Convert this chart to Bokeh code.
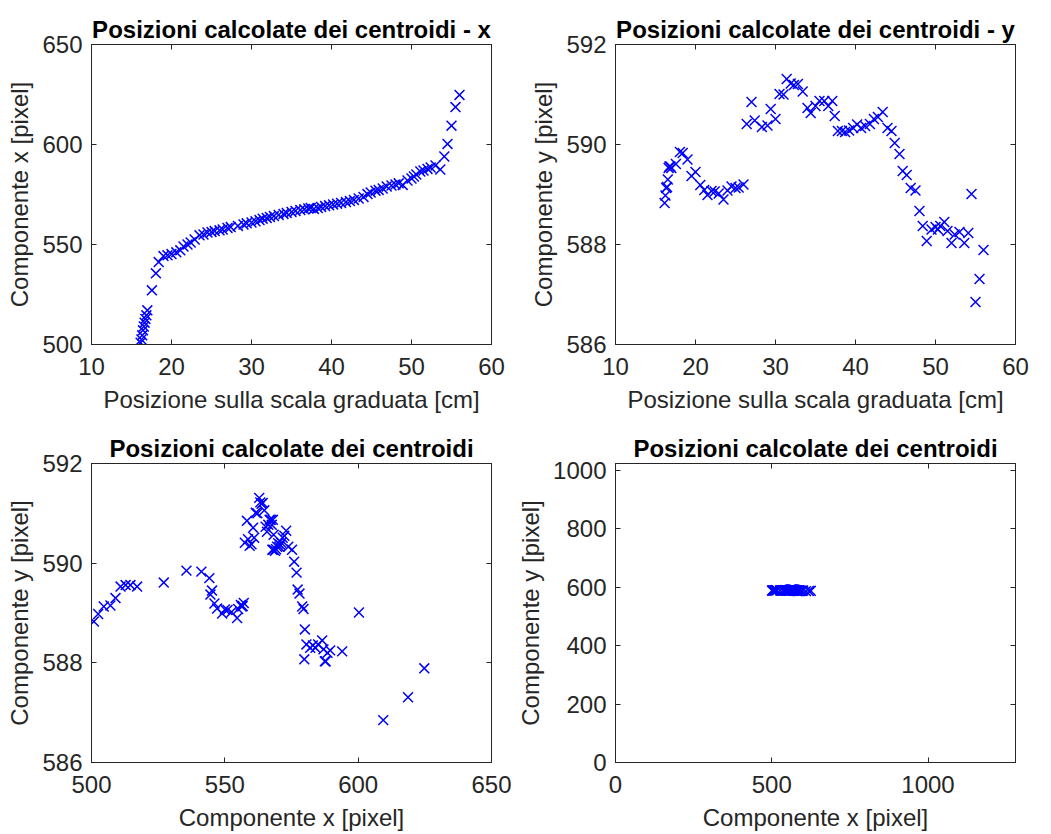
from bokeh.plotting import figure
from bokeh.layouts import gridplot
from bokeh.models import Range1d, FixedTicker, LinearAxis, ColumnDataSource
from bokeh.embed import file_html
from bokeh.resources import INLINE

# ---- data ----
pos_cm = [16.14, 16.24, 16.34, 16.44, 16.54, 16.64, 16.74, 16.86, 16.98,
          17.55, 18.05, 18.4, 19.0, 19.5, 20.0, 20.6, 21.1, 21.5, 22.0, 22.4, 22.9,
          23.5, 24.0, 24.5, 25.0, 25.4, 26.0,
          26.4, 27.0, 27.4, 28.3, 29.0, 29.4, 30.0, 30.5, 31.0, 31.4,
          31.9, 32.3, 32.8, 33.4, 34.0, 34.4, 35.0, 35.5, 36.1, 36.6,
          37.1, 37.4, 37.8, 38.3, 38.7, 39.2, 39.7, 40.2, 40.7, 41.2,
          41.8, 42.3, 42.8, 43.4, 44.0, 44.5, 44.9, 45.5, 45.9, 46.4,
          46.9, 47.5, 48.0, 48.4, 48.9, 49.5, 50.0, 50.3, 50.6, 51.1,
          51.5, 52.0, 52.4, 53.0, 53.6, 54.1, 54.5, 55.0, 55.5, 56.0]

comp_x = [500.9, 502.5, 504.6, 507.1, 509.0, 510.9, 512.8, 514.6, 517.1,
          527.1, 535.6, 541.2, 544.2, 544.6, 545.2, 546.1, 547.1, 549.0, 550.0, 551.0, 552.5,
          554.6, 555.0, 556.0, 556.3, 556.7, 557.1,
          557.5, 558.3, 558.7, 559.3, 560.0, 560.6, 561.0, 561.6, 562.2, 562.9,
          563.3, 563.8, 564.2, 564.8, 565.3, 565.8, 566.3, 566.8, 567.2, 567.6,
          568.0, 568.3, 567.8, 568.2, 568.8, 569.2, 569.6, 570.0, 570.4, 570.8,
          571.2, 571.7, 572.3, 573.0, 573.8, 575.2, 576.0, 576.9, 577.3, 578.0,
          579.0, 579.5, 580.0, 580.6, 579.8, 582.0, 583.0, 584.0, 585.0, 586.5,
          587.0, 587.8, 588.5, 589.5, 587.5, 594.0, 600.3, 609.4, 618.7, 624.8]

comp_y = [588.83, 588.98, 589.13, 589.15, 589.30, 589.53, 589.56, 589.56, 589.53,
          589.61, 589.85, 589.83, 589.70, 589.37, 589.45, 589.19, 589.09, 588.99, 589.07, 589.06, 589.02,
          588.90, 589.08, 589.16, 589.13, 589.14, 589.20,
          590.41, 590.85, 590.48, 590.35, 590.38, 590.71, 590.51, 591.01, 591.00, 591.31,
          591.22, 591.19, 591.21, 591.06, 590.73, 590.63, 590.77, 590.87, 590.87, 590.77,
          590.87, 590.57, 590.27, 590.27, 590.25, 590.28, 590.33, 590.40, 590.33, 590.37,
          590.41, 590.51, 590.55, 590.65, 590.33, 590.27, 590.03, 589.81, 589.47, 589.39,
          589.13, 589.08, 588.67, 588.37, 588.07, 588.30, 588.35, 588.30, 588.37, 588.45,
          588.27, 588.03, 588.20, 588.25, 588.03, 588.23, 589.01, 586.85, 587.31, 587.89]

titles = ["Posizioni calcolate dei centroidi - x",
          "Posizioni calcolate dei centroidi - y",
          "Posizioni calcolate dei centroidi",
          "Posizioni calcolate dei centroidi"]

ticks_cm = [10, 20, 30, 40, 50, 60]
ticks_px_x = [500, 550, 600, 650]
ticks_px_y = [586, 588, 590, 592]
ticks_comp_x = [500, 550, 600, 650]
ticks_full_x = [0, 500, 1000]
ticks_full_y = [0, 200, 400, 600, 800, 1000]

src = ColumnDataSource(dict(cm=pos_cm, px=comp_x, py=comp_y))

FONT = "Liberation Sans"
TXT = "#262626"
BLUE = "#0000FF"
FS = "24px"


def style_axis(ax, ticks, show_labels=True):
    ax.ticker = FixedTicker(ticks=ticks)
    ax.major_tick_in = 5
    ax.major_tick_out = 0
    ax.minor_tick_line_color = None
    ax.major_tick_line_color = TXT
    ax.axis_line_color = TXT
    ax.major_label_text_font = FONT
    ax.axis_label_text_font = FONT
    ax.axis_label_text_font_size = FS
    ax.axis_label_text_font_style = "normal"
    ax.axis_label_text_color = TXT
    if show_labels:
        ax.major_label_text_color = TXT
        ax.major_label_text_font_size = FS
    else:
        ax.major_label_text_color = None
        ax.major_label_text_font_size = "0px"
        ax.major_label_standoff = 0


def make_fig(title, xcol, ycol, xr, yr, xt, yt, xlabel, ylabel, w, h, bl, br, bt, bb):
    p = figure(width=w, height=h, output_backend="svg", toolbar_location=None,
               x_range=Range1d(*xr), y_range=Range1d(*yr),
               min_border_left=bl, min_border_right=br,
               min_border_top=bt, min_border_bottom=bb)
    p.title.text = title
    p.title.text_font = FONT
    p.title.text_font_size = FS
    p.title.text_font_style = "bold"
    p.title.text_color = "#000000"
    p.title.align = "center"
    p.title.standoff = 4
    p.xgrid.visible = False
    p.ygrid.visible = False
    p.outline_line_color = TXT
    p.outline_line_alpha = 1.0
    p.background_fill_color = "white"
    p.border_fill_color = "white"
    style_axis(p.xaxis[0], xt)
    style_axis(p.yaxis[0], yt)
    p.xaxis[0].axis_label = xlabel
    p.yaxis[0].axis_label = ylabel
    p.xaxis[0].major_label_standoff = 13
    p.yaxis[0].major_label_standoff = 9
    p.xaxis[0].axis_label_standoff = 8
    p.yaxis[0].axis_label_standoff = 6
    top = LinearAxis()
    style_axis(top, xt, show_labels=False)
    p.add_layout(top, "above")
    right = LinearAxis()
    style_axis(right, yt, show_labels=False)
    p.add_layout(right, "right")
    p.scatter(x=xcol, y=ycol, source=src, marker="x", size=14,
              line_color=BLUE, line_width=1.5)
    return p


p1 = make_fig(titles[0], "cm", "px", (10, 60), (500, 650), ticks_cm, ticks_px_x,
              "Posizione sulla scala graduata [cm]", "Componente x [pixel]",
              511, 425, 91, 20, 44, 81)
p2 = make_fig(titles[1], "cm", "py", (10, 60), (586, 592), ticks_cm, ticks_px_y,
              "Posizione sulla scala graduata [cm]", "Componente y [pixel]",
              524, 425, 104, 20, 44, 81)
p3 = make_fig(titles[2], "px", "py", (500, 650), (586, 592), ticks_comp_x, ticks_px_y,
              "Componente x [pixel]", "Componente y [pixel]",
              511, 408, 91, 20, 38, 70)
p4 = make_fig(titles[3], "px", "py", (0, 1280), (0, 1024), ticks_full_x, ticks_full_y,
              "Componente x [pixel]", "Componente y [pixel]",
              524, 408, 104, 20, 38, 70)

grid = gridplot([[p1, p2], [p3, p4]], toolbar_location=None)

open("out.html", "w").write(file_html(grid, INLINE))
